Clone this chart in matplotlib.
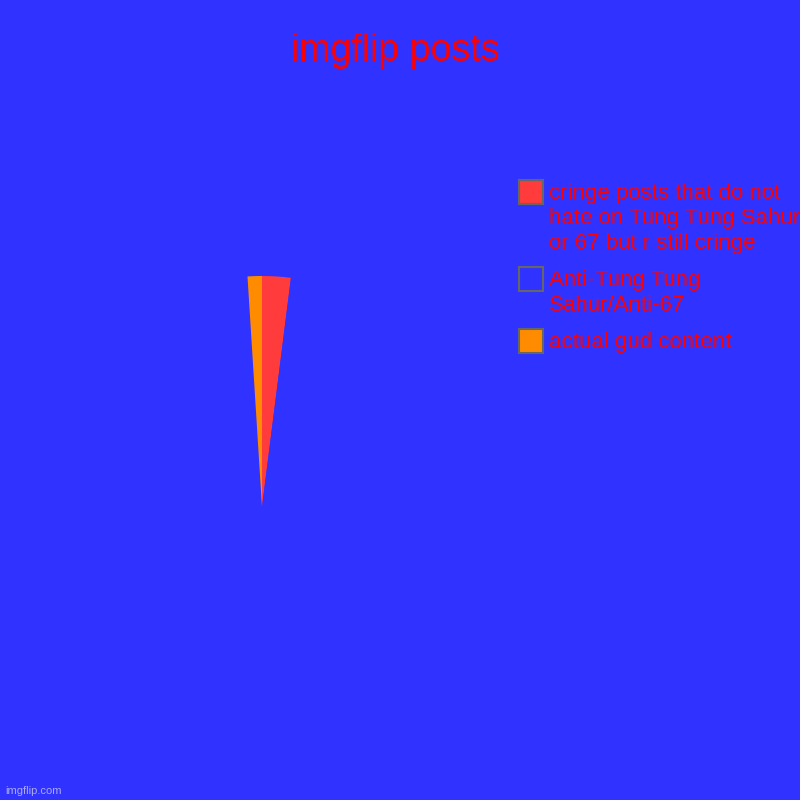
import matplotlib.pyplot as plt
from matplotlib.patches import Rectangle

plt.rcParams['font.family'] = ['Liberation Sans', 'DejaVu Sans']

# data
labels = ['cringe posts that do not\nhate on Tung Tung Sahur\nor 67 but r still cringe',
          'Anti-Tung Tung\nSahur/Anti-67',
          'actual gud content']
values = [2, 97, 1]
colors = ['#ff3b3b', '#3033ff', '#ff8c00']

bg = '#3033ff'
txt = '#ff0000'

fig = plt.figure(figsize=(8, 8), dpi=100, facecolor=bg)

# pie: center (262, 507) px, radius 231 px
cx, cy, r = 262, 507, 231
ax = fig.add_axes([(cx - r) / 800, (800 - cy - r) / 800, 2 * r / 800, 2 * r / 800])
ax.set_facecolor(bg)
ax.pie(values, colors=colors, startangle=90, counterclock=False, radius=1,
       wedgeprops=dict(linewidth=0))
ax.set_xlim(-1, 1)
ax.set_ylim(-1, 1)
ax.set_aspect('equal')
ax.axis('off')

fig.text(395 / 800, 1 - 51 / 800, 'imgflip posts', color=txt, fontsize=27,
         ha='center', va='center')

# legend drawn by hand (boxes top-aligned with first line)
tops = [180, 267, 329]
for lab, col, top in zip(labels, colors, tops):
    fig.patches.append(Rectangle((519 / 800, 1 - (top + 24) / 800), 24 / 800, 24 / 800,
                                 transform=fig.transFigure, facecolor=col,
                                 edgecolor='#666666', linewidth=1.5))
    fig.text(549 / 800, 1 - (top + 3) / 800, lab, color=txt, fontsize=16,
             ha='left', va='top', linespacing=1.25)

fig.text(5 / 800, 1 - 791 / 800, 'imgflip.com', color='#c8c8e8', fontsize=8,
         ha='left', va='center', alpha=0.8)

fig.savefig('out.png', dpi=100, facecolor=bg)
